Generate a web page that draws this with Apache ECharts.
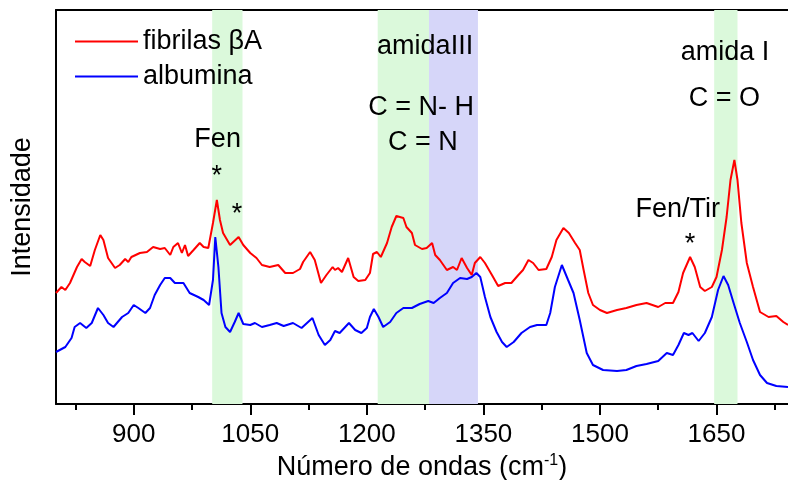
<!DOCTYPE html>
<html><head><meta charset="utf-8">
<script src="https://cdn.jsdelivr.net/npm/echarts@6/dist/echarts.min.js"></script>
<style>html,body{margin:0;padding:0;background:#fff}#c{width:788px;height:480px}</style>
</head><body><div id="c"></div>
<script>
// Wavenumber (cm-1) and intensity (arbitrary units)
const fibrilasX = [800,807,812,818,827,833,837,844,850,857,861,867,876,882,889,893,897,908,917,925,934,940,947,951,957,962,966,970,977,985,990,996,1002,1007,1011,1015,1024,1035,1041,1050,1058,1065,1075,1086,1095,1105,1114,1118,1127,1133,1141,1148,1156,1159,1163,1168,1176,1183,1189,1198,1204,1208,1213,1218,1226,1232,1238,1247,1251,1258,1262,1271,1277,1284,1288,1294,1303,1311,1316,1322,1329,1335,1339,1346,1352,1361,1369,1378,1386,1395,1401,1408,1414,1421,1431,1438,1444,1453,1460,1468,1474,1479,1485,1491,1500,1509,1522,1534,1547,1560,1575,1584,1594,1601,1607,1616,1622,1629,1635,1644,1650,1657,1663,1668,1673,1677,1682,1689,1697,1706,1717,1727,1736,1742];
const fibrilasY = [111,117,114,121,137,145,142,138,154,169,164,146,136,139,145,142,147,151,152,157,155,156,149,157,161,151,159,148,154,161,157,156,181,204,184,171,159,167,159,151,146,139,137,139,131,131,135,142,152,144,121,129,137,134,136,132,146,127,123,124,131,150,152,147,161,177,188,186,177,171,159,155,156,161,149,144,134,137,134,146,136,129,141,147,141,129,118,121,121,129,134,144,141,134,135,147,164,176,171,161,154,134,111,99,94,91,94,96,99,101,97,101,101,112,131,147,137,117,113,117,127,154,187,224,244,224,181,141,117,92,87,88,82,79];
const albuminaX = [800,812,820,824,831,839,846,854,861,867,874,885,893,900,906,915,921,927,934,940,947,953,964,972,983,990,997,1002,1005,1009,1013,1018,1024,1030,1035,1041,1050,1056,1065,1075,1084,1093,1105,1116,1130,1138,1146,1153,1159,1165,1177,1185,1193,1200,1204,1209,1215,1221,1230,1238,1247,1258,1268,1279,1286,1294,1303,1311,1320,1329,1335,1341,1346,1352,1359,1367,1374,1380,1389,1399,1410,1419,1431,1436,1442,1451,1459,1466,1474,1483,1491,1504,1522,1534,1547,1560,1575,1586,1594,1601,1608,1614,1619,1627,1635,1644,1652,1659,1665,1672,1680,1689,1697,1706,1715,1727,1742];
const albuminaY = [52,57,66,77,81,76,81,96,89,81,77,87,91,99,96,91,96,109,119,126,126,121,121,111,107,104,99,124,167,137,91,77,72,82,91,80,79,81,77,79,81,78,81,76,86,69,59,64,73,71,81,74,71,76,87,95,87,77,82,91,96,96,100,103,101,106,111,121,126,125,127,131,127,107,87,72,62,57,62,71,77,79,79,91,117,139,124,111,84,51,39,34,33,34,38,40,43,51,49,59,71,69,71,63,71,87,114,128,119,101,81,62,44,29,21,18,17];

const xTicks = [900,1050,1200,1350,1500,1650];
const xMinorTicks = [825,975,1125,1275,1425,1575,1725];
const greenBands = [[1001,1040],[1214,1280],[1647,1677]];
const blueBands = [[1280,1343]];

const annotationText = ['Fen','*','*','amidaIII','C = N- H','C = N','amida I','C = O','Fen/Tir','*'];
const annotationX = [1008,1007,1033,1275,1270,1272,1661,1660,1600,1616];
const annotationY = [264,227,189,357,296,261,351,305,194,159];

const FONT = '"Liberation Sans", Arial, sans-serif';
const X_MIN = 800, X_MAX = 1742, Y_MIN = 0, Y_MAX = 394;

const chart = echarts.init(document.getElementById('c'), null, {renderer: 'canvas'});
const bandAreas = greenBands.map(b => [{xAxis: b[0], itemStyle: {color: '#dbf9db'}}, {xAxis: b[1]}])
  .concat(blueBands.map(b => [{xAxis: b[0], itemStyle: {color: '#d6d6f9'}}, {xAxis: b[1]}]));

chart.setOption({
  animation: false,
  backgroundColor: '#fff',
  grid: [
    {left: 56, right: 0, top: 10, bottom: 76, containLabel: false, outerBoundsMode: 'none'},
    {left: 56, right: 0, top: 10, bottom: 76, containLabel: false, outerBoundsMode: 'none'}
  ],
  legend: {
    orient: 'vertical', left: 70, top: 23,
    itemWidth: 63, itemHeight: 2, itemGap: 8, icon: 'rect',
    data: ['fibrilas βA', 'albumina'],
    textStyle: {fontSize: 27, fontFamily: FONT, color: '#000', lineHeight: 27}
  },
  xAxis: [
    {
      type: 'value', gridIndex: 0, position: 'bottom', min: X_MIN, max: X_MAX,
      axisLine: {show: true, onZero: false, lineStyle: {color: '#000', width: 2}},
      axisTick: {show: true, customValues: xMinorTicks, length: 6, lineStyle: {color: '#000', width: 2}},
      axisLabel: {show: true, customValues: xTicks, fontSize: 26, fontFamily: FONT, color: '#000', margin: 18,
        formatter: v => String(v)},
      splitLine: {show: false},
      name: 'Número de ondas (cm{sup|-1})',
      nameLocation: 'middle', nameGap: 47,
      nameTextStyle: {fontSize: 27, fontFamily: FONT, color: '#000', lineHeight: 30,
        rich: {sup: {fontSize: 16, fontFamily: FONT, color: '#000', verticalAlign: 'top', lineHeight: 30}}}
    },
    {
      type: 'value', gridIndex: 0, position: 'top', min: X_MIN, max: X_MAX,
      axisLine: {show: true, onZero: false, lineStyle: {color: '#000', width: 2}},
      axisTick: {show: false}, axisLabel: {show: false}, splitLine: {show: false}
    },
    {
      type: 'value', gridIndex: 1, position: 'bottom', min: X_MIN, max: X_MAX,
      axisLine: {show: false, onZero: false},
      axisTick: {show: true, customValues: xTicks, length: 11, lineStyle: {color: '#000', width: 2}},
      axisLabel: {show: false}, splitLine: {show: false}
    }
  ],
  yAxis: [
    {
      type: 'value', gridIndex: 0, min: Y_MIN, max: Y_MAX,
      axisLine: {show: true, onZero: false, lineStyle: {color: '#000', width: 2}},
      axisTick: {show: false}, axisLabel: {show: false}, splitLine: {show: false},
      name: 'Intensidade', nameLocation: 'middle', nameRotate: 90, nameGap: 20,
      nameTextStyle: {fontSize: 27, fontFamily: FONT, color: '#000'}
    },
    {type: 'value', gridIndex: 1, min: Y_MIN, max: Y_MAX, show: false}
  ],
  series: [
    {
      type: 'line', xAxisIndex: 0, yAxisIndex: 0, data: [], silent: true, z: 0,
      markArea: {silent: true, data: bandAreas}
    },
    {
      name: 'fibrilas βA', type: 'line', xAxisIndex: 0, yAxisIndex: 0, z: 3,
      showSymbol: false, symbol: 'none', color: '#ff0000',
      lineStyle: {color: '#ff0000', width: 2},
      data: fibrilasX.map((x, i) => [x, fibrilasY[i]])
    },
    {
      name: 'albumina', type: 'line', xAxisIndex: 0, yAxisIndex: 0, z: 2,
      showSymbol: false, symbol: 'none', color: '#0000ff',
      lineStyle: {color: '#0000ff', width: 2},
      data: albuminaX.map((x, i) => [x, albuminaY[i]])
    },
    {
      type: 'custom', xAxisIndex: 0, yAxisIndex: 0, silent: true, z: 5,
      data: annotationX.map((x, i) => [x, annotationY[i]]),
      renderItem: function (params, api) {
        const p = api.coord([api.value(0), api.value(1)]);
        return {type: 'text', x: p[0], y: p[1],
          style: {text: annotationText[params.dataIndex], fontSize: 27, fontFamily: FONT,
            fill: '#000', align: 'center', verticalAlign: 'middle'}};
      }
    }
  ]
});
</script></body></html>
